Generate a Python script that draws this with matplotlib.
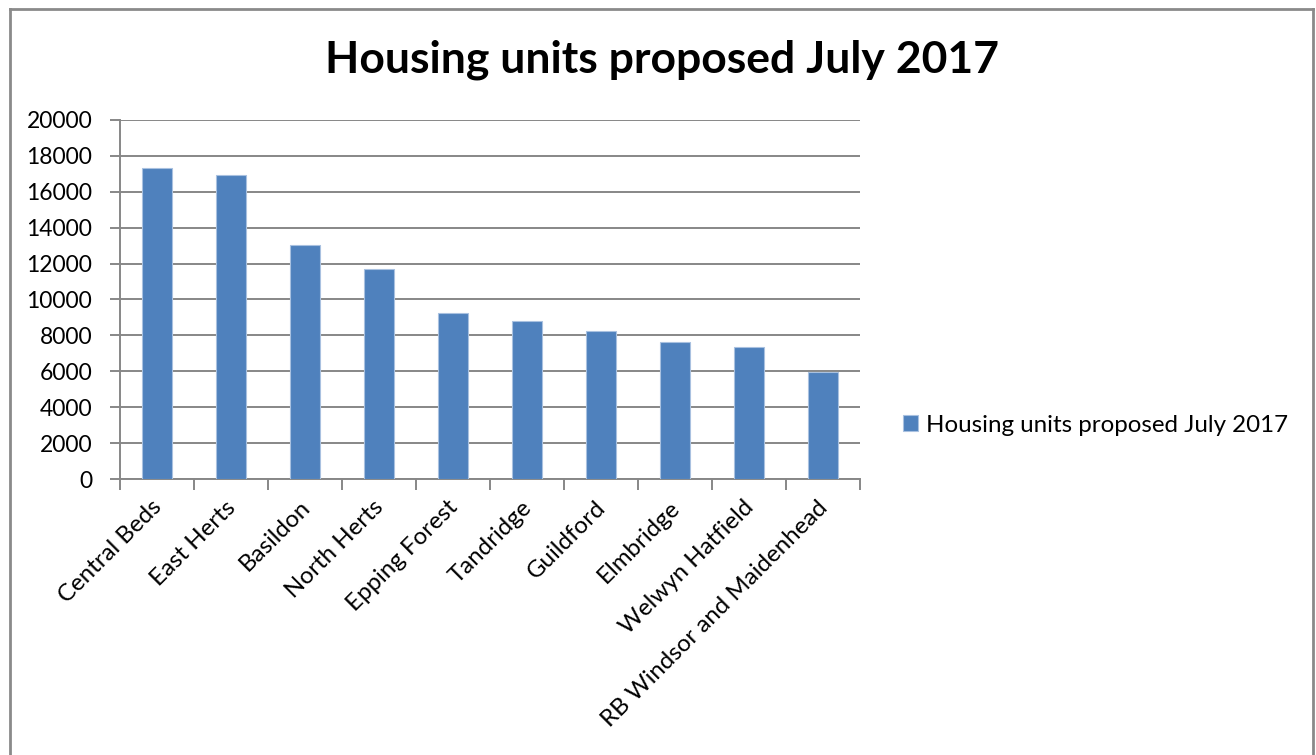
import matplotlib
matplotlib.use("Agg")
import matplotlib.pyplot as plt
from matplotlib.lines import Line2D
import numpy as np

# housing units proposed per authority, July 2017
councils = ["Central Beds", "East Herts", "Basildon", "North Herts", "Epping Forest",
            "Tandridge", "Guildford", "Elmbridge", "Welwyn Hatfield",
            "RB Windsor and Maidenhead"]
units = [17300, 16950, 13040, 11700, 9250, 8810, 8230, 7650, 7340, 5940]
yticks = list(range(0, 20001, 2000))

seriesName = "Housing units proposed July 2017"
barColour = "#4F81BD"
gridColour = "#878787"

plt.rcParams["font.family"] = ["Lato", "DejaVu Sans"]

fig = plt.figure(figsize=(13.16, 7.55), dpi=100)
W, H = 1316, 755
ax = fig.add_axes([120 / W, 1 - 479 / H, 740 / W, 359 / H])

x = np.arange(len(councils))
ax.bar(x, units, width=0.4, color=barColour, edgecolor="#a9c1e0", linewidth=0.8,
       label=seriesName, zorder=3)

ax.set_xlim(-0.5, len(councils) - 0.5)
ax.set_ylim(0, 20000)
ax.set_yticks(yticks)
ax.set_yticklabels([str(v) for v in yticks], fontsize=16.5)
ax.yaxis.grid(True, color=gridColour, linewidth=1.4, zorder=0)
ax.tick_params(axis="y", length=7, width=1.4, color=gridColour, pad=13)

# category ticks sit between the bars
ax.set_xticks(x)
ax.set_xticklabels([])
ax.tick_params(axis="x", which="major", length=0)
ax.set_xticks(np.arange(-0.5, len(councils)), minor=True)
ax.tick_params(axis="x", which="minor", length=8, width=1.4, color=gridColour)
for xi, name in zip(x, councils):
    ax.annotate(name, xy=(xi, 0), xycoords=("data", "axes fraction"),
                xytext=(1, -18), textcoords="offset points",
                rotation=45, rotation_mode="anchor", ha="right", va="center",
                fontsize=17.3)

for side in ["top", "right"]:
    ax.spines[side].set_visible(False)
for side in ["left", "bottom"]:
    ax.spines[side].set_color(gridColour)
    ax.spines[side].set_linewidth(1.4)

fig.text(662 / W, 1 - 60 / H, seriesName, ha="center", va="center",
         fontsize=32, fontweight="bold")

ax.legend(loc="center left", bbox_to_anchor=(881 / W, 1 - 425 / H),
          bbox_transform=fig.transFigure, frameon=False, fontsize=17.4,
          handlelength=0.62, handleheight=0.62, handletextpad=0.33)

# chart border
borderKw = dict(color="#8a8a8a", linewidth=2, transform=fig.transFigure)
fig.add_artist(Line2D([10 / W, 10 / W], [0, 1 - 9 / H], **borderKw))
fig.add_artist(Line2D([10 / W, 1313 / W], [1 - 9 / H, 1 - 9 / H], **borderKw))
fig.add_artist(Line2D([1313 / W, 1313 / W], [0, 1 - 9 / H], **borderKw))

fig.savefig("out.png", dpi=100)
